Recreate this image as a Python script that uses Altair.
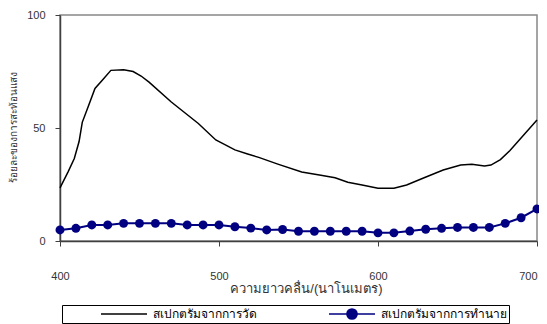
import altair as alt
import pandas as pd

# ---- data ----
series_names = ["สเปกตรัมจากการวัด", "สเปกตรัมจากการทำนาย"]

measured_wl = [400, 405, 409, 412, 414, 418, 422, 427, 432, 440, 446, 451, 456,
               470, 487, 498, 504, 510, 518, 525, 537, 552, 565, 573, 581, 590,
               600, 610, 618, 629, 641, 652, 659, 667, 671, 677, 683, 700]
measured_val = [23.5, 30.5, 36.5, 44.0, 52.5, 60.0, 67.5, 71.5, 75.5, 75.8, 75.0, 73.0, 70.3,
                61.5, 52.0, 44.7, 42.5, 40.3, 38.5, 37.0, 34.0, 30.5, 29.0, 28.0, 26.0, 24.8,
                23.3, 23.3, 24.8, 28.0, 31.4, 33.6, 34.0, 33.2, 33.6, 36.0, 40.0, 53.5]

pred_wl = [400, 410, 420, 430, 440, 450, 460, 470, 480, 490, 500, 510, 520, 530, 540, 550,
           560, 570, 580, 590, 600, 610, 620, 630, 640, 650, 660, 670, 680, 690, 700]
pred_val = [4.9, 5.6, 7.1, 7.1, 7.8, 7.8, 7.8, 7.8, 7.1, 7.1, 7.1, 6.3, 5.7, 4.9, 5.1, 4.3,
            4.3, 4.3, 4.3, 4.3, 3.6, 3.6, 4.4, 5.2, 5.6, 6.0, 6.0, 6.0, 7.8, 10.3, 14.2]

x_ticks = [400, 500, 600, 700]
y_ticks = [0, 50, 100]
x_title = "ความยาวคลื่น/(นาโนเมตร)"
y_title = "ร้อยละของการสะท้อนแสง"

df_m = pd.DataFrame({"wl": measured_wl, "val": measured_val, "series": series_names[0]})
df_p = pd.DataFrame({"wl": pred_wl, "val": pred_val, "series": series_names[1]})

FONT = "Liberation Sans, Arial, sans-serif"
NAVY = "#000080"

color_scale = alt.Scale(domain=series_names, range=["#000000", NAVY])
LINE = "M-1,0L1,0"
LINE_DOT = "M-1,0L1,0M0.22,0A0.22,0.22,0,1,1,-0.22,0A0.22,0.22,0,1,1,0.22,0Z"
shape_scale = alt.Scale(domain=series_names, range=[LINE, LINE_DOT])

NBSP = "\u00a0" * 10
legend = alt.Legend(
    orient="none", legendX=2, legendY=290, direction="horizontal",
    title="\u00a0", titleOrient="left", titlePadding=36,
    strokeColor="black", fillColor="white", padding=2,
    symbolSize=2116, symbolStrokeWidth=1.6, symbolFillColor=NAVY, symbolOpacity=1,
    clipHeight=14, columnPadding=71,
    labelExpr=f"datum.value == '{series_names[1]}' ? datum.label + '{NBSP}' : datum.label",
    labelFontSize=12, labelFont=FONT, labelColor="#000000", labelOffset=5,
)

x_enc = alt.X("wl:Q", scale=alt.Scale(domain=[400, 700], nice=False, zero=False),
              axis=alt.Axis(values=x_ticks, title=x_title, labelPadding=24, labelFlush=False,
                            labelAlign={"condition": {"test": f"datum.value == {x_ticks[-1]}",
                                                      "value": "right"},
                                        "value": "center"},
                            titleX=246, titleY=41, titleBaseline="top",
                            titleAlign="center", titleFontSize=13))
y_enc = alt.Y("val:Q", scale=alt.Scale(domain=[0, 100], nice=False),
              axis=alt.Axis(values=y_ticks, title=y_title, labelPadding=10,
                            titleX=-47, titleY=112, titleAlign="center",
                            titleBaseline="middle", titleFontSize=10))

base_m = alt.Chart(df_m)
base_p = alt.Chart(df_p)

line_m = base_m.mark_line(strokeWidth=1.5).encode(
    x=x_enc, y=y_enc,
    color=alt.Color("series:N", scale=color_scale, legend=legend))
line_p = base_p.mark_line(strokeWidth=2).encode(
    x=x_enc, y=y_enc,
    color=alt.Color("series:N", scale=color_scale, legend=legend))
pts_p = base_p.mark_point(filled=True, size=80, opacity=1, color=NAVY).encode(
    x=x_enc, y=y_enc)
legend_only = base_p.transform_filter("false").mark_point(
    filled=False, fill=NAVY, opacity=1).encode(
    x=x_enc, y=y_enc,
    color=alt.Color("series:N", scale=color_scale, legend=legend),
    shape=alt.Shape("series:N", scale=shape_scale, legend=legend))

chart = alt.layer(line_m, line_p, pts_p, legend_only).properties(
    width=477, height=226,
    autosize=alt.AutoSizeParams(type="none"),
    padding={"left": 52, "top": 7, "right": 2, "bottom": 83},
).configure_view(
    stroke="#888888", strokeWidth=1.5
).configure_axis(
    grid=False, domainColor="#404040", domainWidth=1.5, tickColor="#404040",
    tickSize=5, tickWidth=1, labelColor="#333333", labelFontSize=11, labelFont=FONT,
    titleFont=FONT, titleFontWeight="normal", titleColor="#333333",
)

chart.save("out.html", embed_options={"renderer": "svg", "actions": False})
